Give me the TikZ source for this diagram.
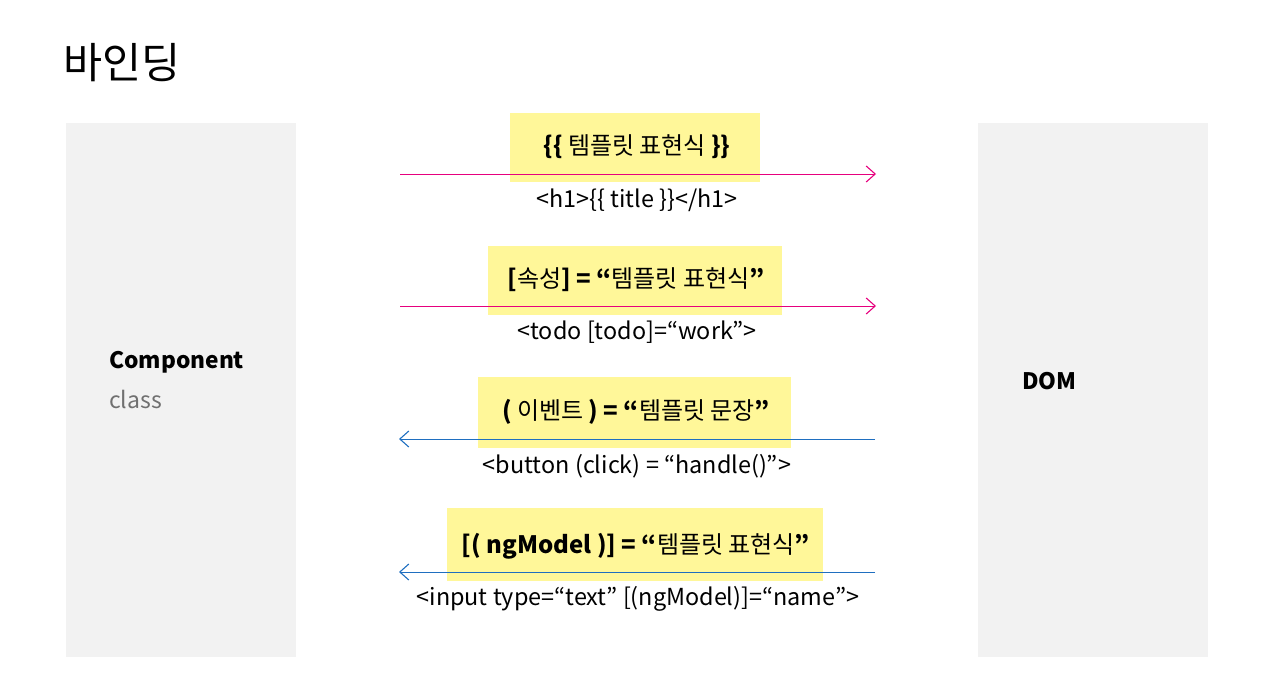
\documentclass[tikz,border=0pt]{standalone}
\usepackage{fontspec}
\setmainfont{Noto Sans CJK KR}
\usetikzlibrary{arrows.meta}
\definecolor{panel}{HTML}{F2F2F2}
\definecolor{hl}{HTML}{FFF799}
\definecolor{pinkline}{HTML}{E6007E}
\definecolor{blueline}{HTML}{1F6FC0}
\definecolor{graytxt}{HTML}{707070}
\tikzset{
  panelbox/.style={fill=panel, draw=none},
  hlbox/.style={fill=hl, draw=none},
  tolink/.style={draw=pinkline, line width=1pt, -{Straight Barb[length=9pt,width=16pt,line width=1.1pt]}},
  fromlink/.style={draw=blueline, line width=1pt, -{Straight Barb[length=9pt,width=16pt,line width=1.1pt]}},
  headtxt/.style={font=\fontsize{24}{28}\selectfont, inner sep=0pt, anchor=center},
  codetxt/.style={font=\fontsize{23.4}{28}\selectfont, inner sep=0pt, anchor=center},
}
\begin{document}
\begin{tikzpicture}[x=1pt,y=-1pt]
\useasboundingbox (0,0) rectangle (1275,675);
\node[anchor=west, inner sep=0pt, font=\fontsize{42.5}{50}\selectfont] (title) at (63,63) {바인딩};
% panels
\fill[panelbox] (66,123) rectangle (296,657);
\fill[panelbox] (978,123) rectangle (1208,657);
\node[anchor=west, inner sep=0pt, font=\fontsize{22.7}{27}\selectfont\bfseries] (comp) at (109,362) {Component};
\node[anchor=west, inner sep=0pt, font=\fontsize{23}{27}\selectfont, text=graytxt] (cls) at (109,399) {class};
\node[anchor=west, inner sep=0pt, font=\fontsize{22.7}{27}\selectfont\bfseries] (dom) at (1022,381) {DOM};
% coordinates for arrows
\coordinate (l1) at (400,174); \coordinate (r1) at (876,174);
\coordinate (l2) at (400,306); \coordinate (r2) at (876,306);
\coordinate (l3) at (399,439); \coordinate (r3) at (875,439);
\coordinate (l4) at (399,572); \coordinate (r4) at (875,572);
% highlight boxes
\fill[hlbox] (510,113) rectangle (760,182);
\fill[hlbox] (488,246) rectangle (782,315);
\fill[hlbox] (478,377) rectangle (791,448);
\fill[hlbox] (447,508) rectangle (823,581);
% arrows
\draw[tolink] (l1) -- (r1);
\draw[tolink] (l2) -- (r2);
\draw[fromlink] (r3) -- (l3);
\draw[fromlink] (r4) -- (l4);
% headings
\node[headtxt] (h1) at (637,147) {\textbf{\{\{} 템플릿 표현식 \textbf{\}\}}};
\node[headtxt] (h2) at (636,280) {\textbf{[}속성\textbf{] = “}템플릿 표현식\textbf{”}};
\node[headtxt] (h3) at (636,412) {\textbf{(} 이벤트 \textbf{) = “}템플릿 문장\textbf{”}};
\node[headtxt] (h4) at (636,546) {\textbf{[( ngModel )] = “}템플릿 표현식\textbf{”}};
% code lines
\node[codetxt] (c1) at (637,200) {<h1>\{\{ title \}\}</h1>};
\node[codetxt] (c2) at (637,332) {<todo [todo]=“work”>};
\node[codetxt] (c3) at (637,466) {<button (click) = “handle()”>};
\node[codetxt] (c4) at (638,599) {<input type=“text” [(ngModel)]=“name”>};
\end{tikzpicture}
\end{document}
